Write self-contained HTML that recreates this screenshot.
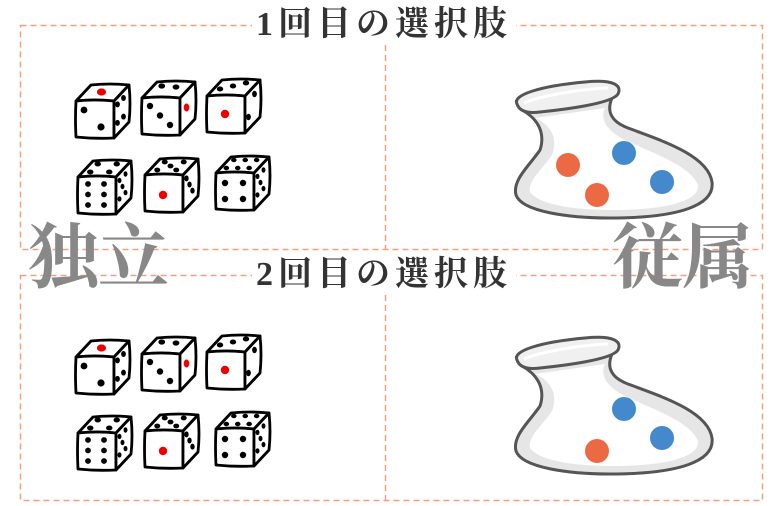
<!DOCTYPE html>
<html><head><meta charset="utf-8"><style>
html,body{margin:0;padding:0;background:#fff;}
body{width:780px;height:506px;overflow:hidden;position:relative;}
.t{position:absolute;font-family:"Liberation Serif","Noto Serif CJK SC",serif;font-weight:bold;white-space:nowrap;}
.title{font-size:34px;color:#333;background:#fff;padding:0 4px;letter-spacing:5px;line-height:36px;}
.big{font-size:71px;color:#888;line-height:72px;letter-spacing:-1px;}
</style></head><body>
<svg width="780" height="506" style="position:absolute;left:0;top:0">
<defs>
<g id="base" stroke="#000" stroke-width="2.8" stroke-linejoin="round" fill="#fff">
<path d="M1,19 L16,3 Q35,1 54,3 L39,19 Q20,17 1,19 Z"/>
<path d="M1,19 Q20,17 39,19 L39,56 Q20,57 1,55 Q0,37 1,19 Z"/>
<path d="M39,19 L54,3 Q56,22 54,40 L39,56 Z"/>
</g>
<symbol id="d1" overflow="visible"><use href="#base"/><ellipse cx="26.5" cy="10" rx="4.6" ry="3.6" fill="#e00"/><circle cx="9" cy="28" r="3.4"/><circle cx="26" cy="45" r="3.6"/><ellipse cx="42.5" cy="22.4" rx="2.4" ry="3"/><ellipse cx="48.5" cy="16" rx="2.4" ry="3"/><ellipse cx="42.5" cy="40.9" rx="2.4" ry="3"/><ellipse cx="48.5" cy="34.6" rx="2.4" ry="3"/></symbol>
<symbol id="d2" overflow="visible"><use href="#base"/><ellipse cx="20.75" cy="7" rx="3.4" ry="2.6" /><ellipse cx="35" cy="8" rx="3.4" ry="2.6"/><ellipse cx="9" cy="27" rx="3.2" ry="3.2"/><circle cx="19" cy="36.5" r="3.2"/><circle cx="29" cy="46" r="3.2"/><ellipse cx="45.5" cy="28.5" rx="2.8" ry="4" fill="#e00"/></symbol>
<symbol id="d3" overflow="visible"><use href="#base"/><ellipse cx="14" cy="12" rx="3.2" ry="2.5"/><ellipse cx="27" cy="9" rx="3.2" ry="2.5"/><ellipse cx="40" cy="6" rx="3.2" ry="2.5"/><circle cx="19" cy="37" r="4.2" fill="#e00"/><ellipse cx="48.5" cy="17" rx="2.4" ry="3.2"/><ellipse cx="42.5" cy="40" rx="2.4" ry="3.2"/></symbol>
<symbol id="d4" overflow="visible"><use href="#base"/><ellipse cx="13.25" cy="14" rx="3.2" ry="2.5"/><ellipse cx="32.25" cy="14" rx="3.2" ry="2.5"/><ellipse cx="20.75" cy="6" rx="3.2" ry="2.5"/><ellipse cx="39.75" cy="6" rx="3.2" ry="2.5"/><circle cx="11" cy="26" r="2.9"/><circle cx="27" cy="26" r="2.9"/><circle cx="11" cy="36.5" r="2.9"/><circle cx="27" cy="36.5" r="2.9"/><circle cx="11" cy="47" r="2.9"/><circle cx="27" cy="47" r="2.9"/><ellipse cx="42.5" cy="22.4" rx="2" ry="2.7"/><ellipse cx="48.5" cy="16" rx="2" ry="2.7"/><ellipse cx="45.5" cy="28.5" rx="2" ry="2.7"/><ellipse cx="42.5" cy="40.9" rx="2" ry="2.7"/><ellipse cx="48.5" cy="34.6" rx="2" ry="2.7"/></symbol>
<symbol id="d5" overflow="visible"><use href="#base"/><ellipse cx="13.25" cy="14" rx="3" ry="2.4"/><ellipse cx="32.25" cy="14" rx="3" ry="2.4"/><ellipse cx="26.5" cy="10" rx="3" ry="2.4"/><ellipse cx="20.75" cy="6" rx="3" ry="2.4"/><ellipse cx="39.75" cy="6" rx="3" ry="2.4"/><circle cx="19" cy="39" r="4.2" fill="#e00"/><ellipse cx="42.5" cy="22.4" rx="2.2" ry="3"/><ellipse cx="45.5" cy="28.5" rx="2.2" ry="3"/><ellipse cx="48.5" cy="34.6" rx="2.2" ry="3"/></symbol>
<symbol id="d6" overflow="visible"><use href="#base"/><ellipse cx="11.35" cy="14" rx="2.8" ry="2.2"/><ellipse cx="22.75" cy="14" rx="2.8" ry="2.2"/><ellipse cx="34.15" cy="14" rx="2.8" ry="2.2"/><ellipse cx="18.85" cy="6" rx="2.8" ry="2.2"/><ellipse cx="30.25" cy="6" rx="2.8" ry="2.2"/><ellipse cx="41.65" cy="6" rx="2.8" ry="2.2"/><circle cx="10" cy="29" r="3.2"/><circle cx="28" cy="29" r="3.2"/><circle cx="10" cy="45" r="3.2"/><circle cx="28" cy="45" r="3.2"/><ellipse cx="42.5" cy="22.4" rx="2" ry="2.7"/><ellipse cx="48.5" cy="16" rx="2" ry="2.7"/><ellipse cx="45.5" cy="28.5" rx="2" ry="2.7"/><ellipse cx="42.5" cy="40.9" rx="2" ry="2.7"/><ellipse cx="48.5" cy="34.6" rx="2" ry="2.7"/></symbol>
<symbol id="flask" overflow="visible">
<path d="M522,110 C540,120 545,135 540,150 C530,165 512,180 516,195 C522,212 570,218 610,218 C680,218 715,205 712,182 C708,155 660,140 628,128 C612,122 606,112 612,98 Z" fill="#e6e6e6" stroke="#555" stroke-width="3" stroke-linejoin="round"/>
<path d="M535,118 C552,125 558,140 552,155 C542,170 528,180 530,192 C540,206 580,210 612,210 C670,210 700,200 698,185 C690,165 650,152 625,140 C605,130 600,118 605,108 Z" fill="#fff"/>
<path d="M517,104 C512,95 540,86 585,82 C615,79 622,86 618,94 C612,104 560,110 540,112 C525,114 519,110 517,104 Z" fill="#f0f0f0" stroke="#555" stroke-width="3" stroke-linejoin="round"/>
<path d="M524,103 C540,96 580,89 608,88" fill="none" stroke="#fff" stroke-width="3"/>
</symbol>
</defs>
<g fill="none" stroke="#f4a080" stroke-width="1.5" stroke-dasharray="6,4">
<rect x="20.5" y="25.5" width="742" height="224"/>
<line x1="385.5" y1="25" x2="385.5" y2="249"/>
<rect x="20.5" y="275.5" width="742" height="225"/>
<line x1="385.5" y1="275" x2="385.5" y2="500"/>
</g>
<g>
<use href="#d1" x="75" y="82"/><use href="#d2" x="141" y="79"/><use href="#d3" x="206" y="77"/>
<use href="#d4" x="77" y="158"/><use href="#d5" x="144" y="156"/><use href="#d6" x="215" y="154"/>
<use href="#d1" x="75" y="338"/><use href="#d2" x="141" y="335"/><use href="#d3" x="206" y="333"/>
<use href="#d4" x="77" y="414"/><use href="#d5" x="144" y="412"/><use href="#d6" x="215" y="410"/>
</g>
<use href="#flask"/>
<circle cx="568" cy="165" r="12" fill="#ec6a43"/><circle cx="597" cy="195" r="12" fill="#ec6a43"/>
<circle cx="624" cy="153" r="12" fill="#4389cc"/><circle cx="662" cy="182" r="12" fill="#4389cc"/>
<use href="#flask" y="256"/>
<circle cx="597" cy="451" r="12" fill="#ec6a43"/>
<circle cx="624" cy="409" r="12" fill="#4389cc"/><circle cx="662" cy="438" r="12" fill="#4389cc"/>
</svg>
<div class="t title" style="left:252px;top:7px;">1回目の選択肢</div>
<div class="t title" style="left:252px;top:257px;">2回目の選択肢</div>
<div class="t big" style="left:28px;top:223px;">独立</div>
<div class="t big" style="left:612px;top:223px;">従属</div>
</body></html>
